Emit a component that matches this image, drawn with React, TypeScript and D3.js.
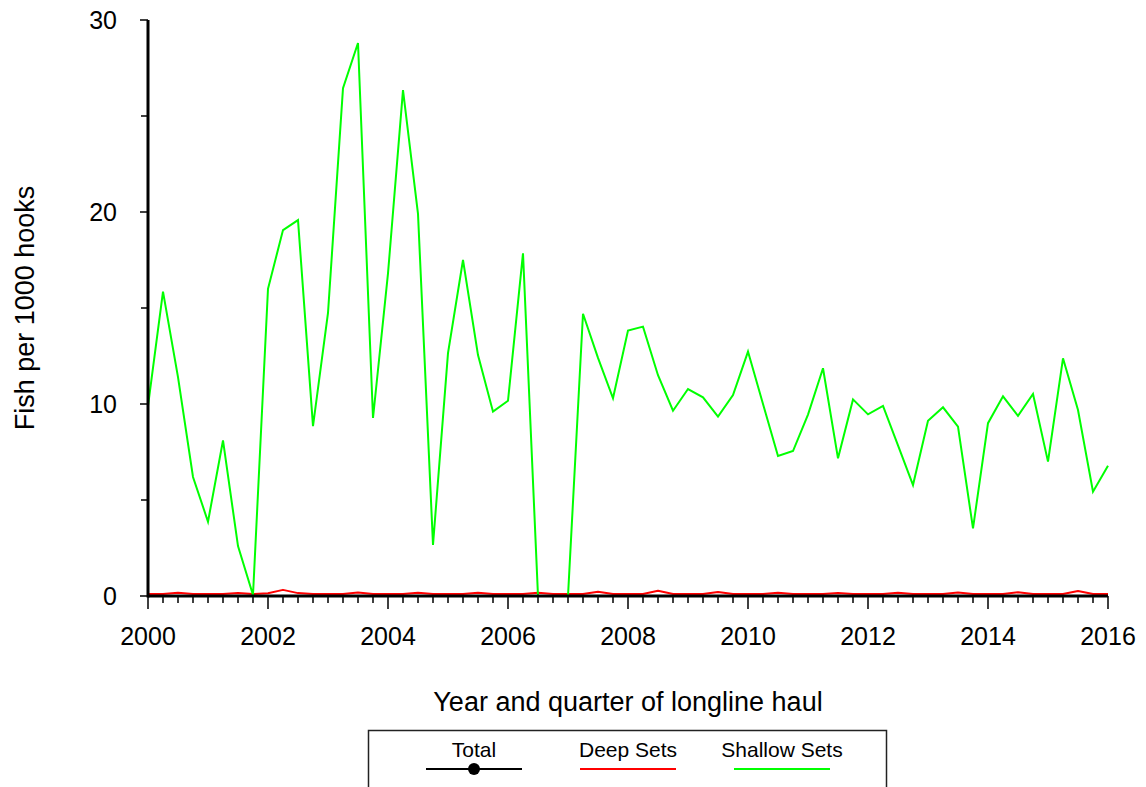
import React from "react";
import * as d3 from "d3";

// Quarterly time points: 2000.00 … 2016.00 (65 quarters)
const quarters: number[] = d3.range(65).map((i) => 2000 + i * 0.25);

const shallowSets: number[] = [
  9.9, 15.85, 11.4, 6.2, 3.87, 8.1, 2.6, 0.05,
  16.0, 19.06, 19.58, 8.85, 14.74, 26.45, 28.8, 9.27,
  16.8, 26.35, 19.9, 2.66, 12.65, 17.5, 12.55, 9.6,
  10.17, 17.85, 0, 0, 0, 14.7, 12.4, 10.3,
  13.82, 14.03, 11.5, 9.65, 10.78, 10.35, 9.34, 10.47,
  12.73, 10.0, 7.29, 7.55, 9.45, 11.86, 7.17, 10.24,
  9.46, 9.9, 7.84, 5.78, 9.13, 9.83, 8.82, 3.52,
  9.0, 10.4, 9.38, 10.52, 7.0, 12.38, 9.69, 5.43,
  6.79,
];

const deepSets: number[] = [
  0.1, 0.1, 0.17, 0.1, 0.1, 0.1, 0.16, 0.1,
  0.14, 0.32, 0.15, 0.1, 0.1, 0.1, 0.18, 0.1,
  0.1, 0.1, 0.17, 0.1, 0.1, 0.1, 0.17, 0.1,
  0.1, 0.1, 0.17, 0.1, 0.1, 0.1, 0.22, 0.1,
  0.1, 0.1, 0.27, 0.1, 0.1, 0.1, 0.21, 0.1,
  0.1, 0.1, 0.17, 0.1, 0.1, 0.1, 0.16, 0.1,
  0.1, 0.1, 0.17, 0.1, 0.1, 0.1, 0.18, 0.1,
  0.1, 0.1, 0.2, 0.1, 0.1, 0.1, 0.26, 0.1,
  0.1,
];

const totalSets: number[] = quarters.map(() => 0);

const xTickLabels: number[] = [2000, 2002, 2004, 2006, 2008, 2010, 2012, 2014, 2016];
const yTickLabels: number[] = [0, 10, 20, 30];
const yMinorTicks: number[] = [5, 15, 25];

const legendItems = [
  { label: "Total", color: "#000000", marker: true },
  { label: "Deep Sets", color: "#ff0000", marker: false },
  { label: "Shallow Sets", color: "#00ff00", marker: false },
];

const FONT = "'Liberation Sans', Arial, Helvetica, sans-serif";

export default function App() {
  const W = 1146;
  const H = 787;
  const left = 148, right = 1108, top = 20, bottom = 596;

  const x = d3.scaleLinear().domain([2000, 2016]).range([left, right]);
  const y = d3.scaleLinear().domain([0, 30]).range([bottom, top]);

  const line = d3
    .line<[number, number]>()
    .x((d) => x(d[0]))
    .y((d) => y(d[1]));

  const path = (vals: number[]) =>
    line(quarters.map((q, i) => [q, vals[i]] as [number, number])) || "";

  const minorX = quarters.filter((q) => !xTickLabels.includes(q));

  const legendX = [474, 628, 782];

  return (
    <svg
      width={W}
      height={H}
      style={{ position: "absolute", left: 0, top: 0, background: "#fff" }}
      fontFamily={FONT}
    >
      <rect x={0} y={0} width={W} height={H} fill="#fff" />
      {/* Series */}
      <path d={path(totalSets)} fill="none" stroke="#000" strokeWidth={2} />
      <path d={path(deepSets)} fill="none" stroke="#ff0000" strokeWidth={2} strokeLinejoin="round" />
      <path d={path(shallowSets)} fill="none" stroke="#00ff00" strokeWidth={2} strokeLinejoin="miter" />

      {/* X axis */}
      <line x1={left} x2={right} y1={bottom} y2={bottom} stroke="#000" strokeWidth={3} />
      {minorX.map((q) => (
        <line key={"mx" + q} x1={x(q)} x2={x(q)} y1={bottom} y2={bottom + 7} stroke="#000" strokeWidth={1.5} />
      ))}
      {xTickLabels.map((t) => (
        <g key={"x" + t}>
          <line x1={x(t)} x2={x(t)} y1={bottom} y2={bottom + 13} stroke="#000" strokeWidth={1.5} />
          <text x={x(t)} y={645} textAnchor="middle" fontSize={25} fill="#000">
            {t}
          </text>
        </g>
      ))}

      {/* Y axis */}
      <line x1={left} x2={left} y1={top} y2={bottom + 1.5} stroke="#000" strokeWidth={3} />
      {yMinorTicks.map((t) => (
        <line key={"my" + t} x1={left - 7} x2={left} y1={y(t)} y2={y(t)} stroke="#000" strokeWidth={1.5} />
      ))}
      {yTickLabels.map((t) => (
        <g key={"y" + t}>
          <line x1={left - 8} x2={left} y1={y(t)} y2={y(t)} stroke="#000" strokeWidth={1.5} />
          <text x={117} y={y(t) + 9} textAnchor="end" fontSize={25} fill="#000">
            {t}
          </text>
        </g>
      ))}

      {/* Axis titles */}
      <text x={628} y={711} textAnchor="middle" fontSize={27} fill="#000">
        Year and quarter of longline haul
      </text>
      <text
        transform={`translate(34, 308) rotate(-90)`}
        textAnchor="middle"
        fontSize={27}
        fill="#000"
      >
        Fish per 1000 hooks
      </text>

      {/* Legend */}
      <rect x={368.5} y={730.5} width={518} height={70} fill="#fff" stroke="#222" strokeWidth={1.5} />
      {legendItems.map((it, i) => (
        <g key={it.label}>
          <text x={legendX[i]} y={757} textAnchor="middle" fontSize={21} fill="#000">
            {it.label}
          </text>
          <line
            x1={legendX[i] - 48}
            x2={legendX[i] + 48}
            y1={769}
            y2={769}
            stroke={it.color}
            strokeWidth={2}
          />
          {it.marker && <circle cx={legendX[i]} cy={769} r={6} fill="#000" />}
        </g>
      ))}
    </svg>
  );
}
